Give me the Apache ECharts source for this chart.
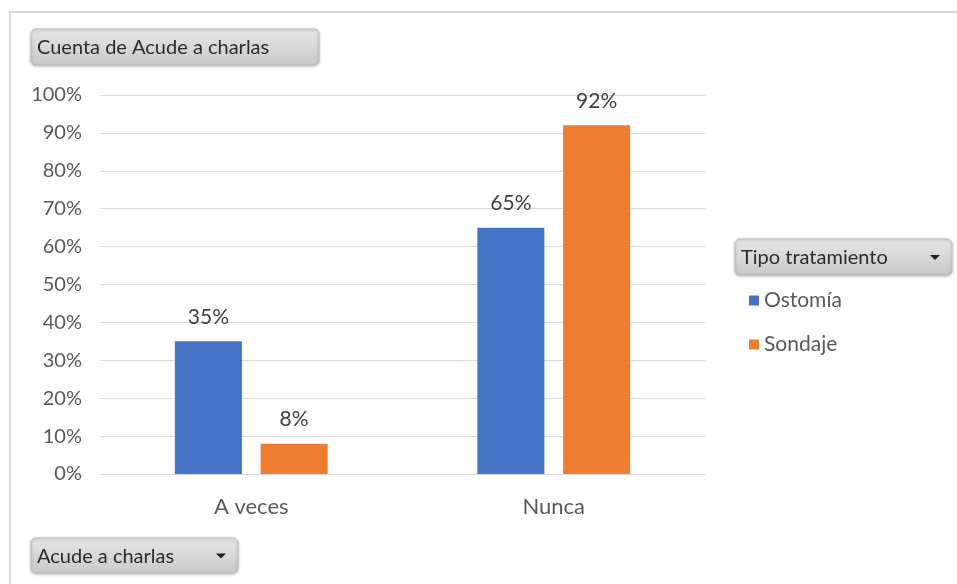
<!DOCTYPE html>
<html>
<head>
<meta charset="utf-8">
<script src="https://cdn.jsdelivr.net/npm/echarts@6/dist/echarts.min.js"></script>
<style>
  html, body { margin: 0; padding: 0; background: #ffffff; }
  #chart { width: 957px; height: 584px; }
</style>
</head>
<body>
<div id="chart"></div>
<script>
// Categories and series for the pivot chart
const categories = ['A veces', 'Nunca'];
const seriesNames = ['Ostomía', 'Sondaje'];
const ostomia = [35, 65];
const sondaje = [8, 92];
const yTicks = [0, 10, 20, 30, 40, 50, 60, 70, 80, 90, 100];
const colors = ['#4472c4', '#ed7d31'];

const FONT = 'Lato, "Liberation Sans", sans-serif';

const chart = echarts.init(document.getElementById('chart'), null, { renderer: 'canvas' });

// Grey pivot field button with optional dropdown arrow
function fieldButton(x, y, w, h, label, withArrow) {
  const children = [
    {
      type: 'rect',
      shape: { x: 0, y: 0, width: w, height: h, r: 5 },
      style: {
        fill: new echarts.graphic.LinearGradient(0, 0, 0, 1, [
          { offset: 0, color: '#e6e6e6' },
          { offset: 1, color: '#c9c9c9' }
        ]),
        stroke: '#bdbdbd',
        lineWidth: 1,
        shadowColor: 'rgba(0,0,0,0.25)',
        shadowBlur: 3,
        shadowOffsetY: 1
      }
    },
    {
      type: 'text',
      x: 6,
      y: h / 2 + 1,
      style: {
        text: label,
        font: '20px ' + FONT,
        fill: '#2b2b2b',
        verticalAlign: 'middle'
      }
    }
  ];
  if (withArrow) {
    children.push({
      type: 'polygon',
      shape: { points: [[w - 22, h / 2 - 2], [w - 12, h / 2 - 2], [w - 17, h / 2 + 3]] },
      style: { fill: '#222222' }
    });
  }
  return { type: 'group', x: x, y: y, children: children };
}

const option = {
  backgroundColor: '#ffffff',
  animation: false,
  textStyle: { fontFamily: FONT },
  grid: { left: 100, right: 252, top: 95, bottom: 110, containLabel: false },
  xAxis: {
    type: 'category',
    data: categories,
    axisLine: { show: true, lineStyle: { color: '#d9d9d9', width: 1 } },
    axisTick: { show: false },
    axisLabel: { color: '#595959', fontSize: 22, fontFamily: FONT, margin: 22 }
  },
  yAxis: {
    type: 'value',
    min: yTicks[0],
    max: yTicks[yTicks.length - 1],
    interval: 10,
    axisLine: { show: false },
    axisTick: { show: false },
    axisLabel: {
      color: '#595959', fontSize: 20, fontFamily: FONT, margin: 18,
      formatter: v => v + '%'
    },
    splitLine: { lineStyle: { color: '#d9d9d9', width: 1 } }
  },
  legend: {
    orient: 'vertical',
    left: 744,
    top: 285,
    itemWidth: 10,
    itemHeight: 10,
    itemGap: 23,
    icon: 'rect',
    textStyle: { color: '#595959', fontSize: 21, fontFamily: FONT, padding: [0, 0, 0, 0] },
    data: seriesNames
  },
  series: [
    {
      name: seriesNames[0],
      type: 'bar',
      data: ostomia,
      barWidth: 67,
      barGap: '28%',
      itemStyle: { color: colors[0] },
      label: {
        show: true, position: 'top', distance: 14,
        color: '#404040', fontSize: 21, fontFamily: FONT,
        formatter: p => p.value + '%'
      }
    },
    {
      name: seriesNames[1],
      type: 'bar',
      data: sondaje,
      barWidth: 67,
      barGap: '28%',
      itemStyle: { color: colors[1] },
      label: {
        show: true, position: 'top', distance: 14,
        color: '#404040', fontSize: 21, fontFamily: FONT,
        formatter: p => p.value + '%'
      }
    }
  ],
  graphic: [
    // chart area frame
    {
      type: 'polyline',
      shape: { points: [[10, 584], [10, 12], [957, 12]] },
      style: { stroke: '#d9d9d9', lineWidth: 2, fill: null }
    },
    fieldButton(31, 29, 288, 36, 'Cuenta de Acude a charlas', false),
    fieldButton(735, 239, 217, 36, 'Tipo tratamiento', true),
    fieldButton(31, 538, 207, 35, 'Acude a charlas', true)
  ]
};

chart.setOption(option);
</script>
</body>
</html>
